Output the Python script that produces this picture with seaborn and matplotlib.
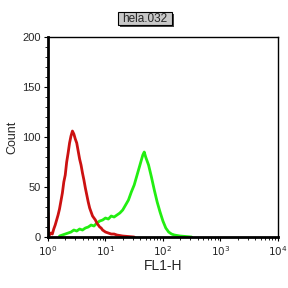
import matplotlib
matplotlib.use('Agg')
import matplotlib.pyplot as plt
import matplotlib.patches as patches
import numpy as np
import pandas as pd
import seaborn as sns

# histogram channel positions (log10 of FL1-H) and counts
red_log = [0.000, 0.010, 0.025, 0.050, 0.075, 0.100, 0.125, 0.150, 0.175, 0.200,
           0.225, 0.250, 0.275, 0.300, 0.325, 0.350, 0.375, 0.400, 0.425, 0.450,
           0.475, 0.500, 0.525, 0.550, 0.575, 0.600, 0.625, 0.650, 0.675, 0.700,
           0.725, 0.750, 0.775, 0.800, 0.825, 0.850, 0.875, 0.900, 0.925, 0.950,
           0.975, 1.000, 1.050, 1.100, 1.150, 1.200, 1.300, 1.400, 1.500]
red_cnt = [24, 3, 2, 4, 3, 8, 12, 17, 22, 28,
           36, 44, 55, 62, 75, 84, 94, 101, 106, 103,
           98, 94, 86, 78, 72, 64, 57, 49, 42, 35,
           29, 25, 21, 19, 17, 14, 12, 10, 9, 7,
           6, 5, 4, 3, 3, 2, 1, 0.5, 0]

green_log = [0.20, 0.30, 0.40, 0.45, 0.50, 0.55, 0.60, 0.65, 0.70, 0.75,
             0.80, 0.85, 0.90, 0.95, 1.00, 1.05, 1.10, 1.15, 1.20, 1.25,
             1.30, 1.35, 1.40, 1.45, 1.50, 1.55, 1.60, 1.65, 1.675, 1.70,
             1.75, 1.80, 1.85, 1.90, 1.95, 2.00, 2.05, 2.10, 2.15, 2.20,
             2.30, 2.40, 2.50]
green_cnt = [1, 3, 5, 7, 6, 8, 7, 9, 10, 12,
             11, 14, 16, 17, 19, 18, 21, 20, 22, 24,
             27, 32, 37, 45, 52, 62, 72, 82, 85, 80,
             72, 60, 47, 35, 25, 16, 9, 5, 3, 2,
             1, 0.5, 0]

x_ticks = [1, 10, 100, 1000, 10000]
x_ticklabels = ['$10^0$', '$10^1$', '$10^2$', '$10^3$', '$10^4$']
y_ticks = [0, 50, 100, 150, 200]

sns.set_style('white')
plt.rcParams['font.family'] = ['Liberation Sans', 'DejaVu Sans']

fig = plt.figure(figsize=(2.88, 2.88), dpi=100)
ax = fig.add_axes([0.1667, 0.177, 0.798, 0.6945])

df_g = pd.DataFrame({'x': np.power(10.0, green_log), 'y': green_cnt})
df_r = pd.DataFrame({'x': np.power(10.0, red_log), 'y': red_cnt})
sns.lineplot(data=df_g, x='x', y='y', color='#22ee11', lw=2.0, ax=ax)
sns.lineplot(data=df_r, x='x', y='y', color='#cc1111', lw=2.0, ax=ax)

ax.set_xscale('log')
ax.set_xlim(1, 10000)
ax.set_ylim(0, 200)
ax.set_xticks(x_ticks)
ax.set_xticklabels(x_ticklabels, fontsize=7.5)
ax.set_yticks(y_ticks)
ax.set_yticklabels([str(v) for v in y_ticks], fontsize=8)
ax.set_yticks(np.arange(0, 201, 10), minor=True)
ax.set_xlabel('FL1-H', fontsize=10, labelpad=1)
ax.set_ylabel('Count', fontsize=9, labelpad=3)

for side in ['top', 'right']:
    ax.spines[side].set_linewidth(1.0)
for side in ['left', 'bottom']:
    ax.spines[side].set_linewidth(2.0)
for sp in ax.spines.values():
    sp.set_color('black')
    sp.set_visible(True)

ax.tick_params(axis='both', which='major', direction='out', length=3,
               width=0.8, color='black', pad=2, bottom=True, left=True)
ax.tick_params(axis='both', which='minor', direction='out', length=2,
               width=0.6, color='black', bottom=True, left=True)

# title box with drop shadow
fig.patches.append(patches.Rectangle((0.418, 0.906), 0.185, 0.046,
                                     transform=fig.transFigure,
                                     facecolor='#444444', edgecolor='none'))
fig.patches.append(patches.Rectangle((0.411, 0.913), 0.185, 0.046,
                                     transform=fig.transFigure,
                                     facecolor='#c8c8c8', edgecolor='black', lw=0.8))
fig.text(0.5035, 0.935, 'hela.032', ha='center', va='center', fontsize=8.5)

plt.savefig('out.png', dpi=100)
plt.close()
